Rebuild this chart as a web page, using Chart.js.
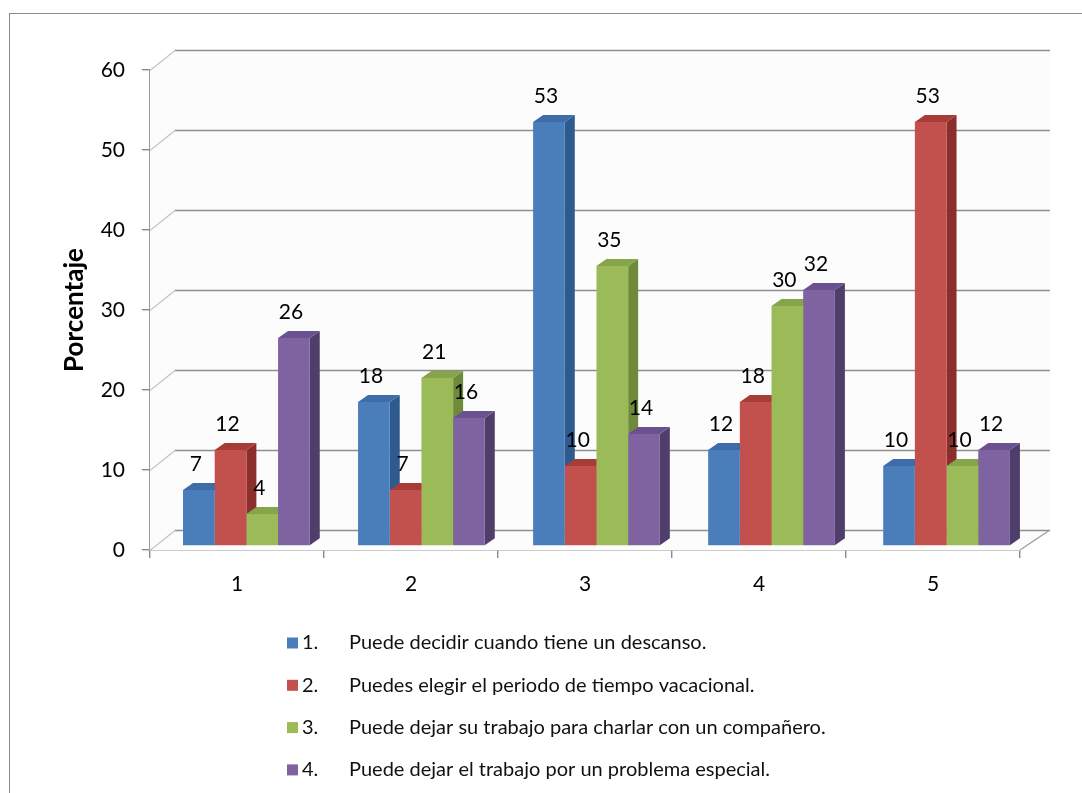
<!DOCTYPE html>
<html>
<head>
<meta charset="utf-8">
<script src="https://cdn.jsdelivr.net/npm/chart.js@4.4.1/dist/chart.umd.min.js"></script>
<style>
  html, body { margin: 0; padding: 0; background: #fff; overflow: hidden; }
  canvas { display: block; }
</style>
</head>
<body>
<canvas id="chart" width="1082" height="793"></canvas>
<script>
// Categories (questions) and the four answer series, in percent
const categories = ['1', '2', '3', '4', '5'];
const seriesNumbers = ['1.', '2.', '3.', '4.'];
const seriesNames = [
  'Puede decidir cuando tiene un descanso.',
  'Puedes elegir el periodo de tiempo vacacional.',
  'Puede dejar su trabajo para charlar con un compañero.',
  'Puede dejar el trabajo por un problema especial.'
];
const descanso   = [7, 18, 53, 12, 10];
const vacacional = [12, 7, 10, 18, 53];
const charlar    = [4, 21, 35, 30, 10];
const problema   = [26, 16, 14, 32, 12];
const yTicks = [0, 10, 20, 30, 40, 50, 60];

// Face colours for the 3-D columns
const frontColors = ['#4a7ebb', '#c2504c', '#9bbb59', '#7f63a1'];
const sideColors  = ['#2f5a8e', '#8c2f2c', '#6f8a3a', '#4f3d6c'];
const topColors   = ['#3d6ca8', '#a53c38', '#86a449', '#6a5190'];

const FONT = 'Lato, "Open Sans", sans-serif';

// Projection of the column plane (columns stand a little behind the front axis)
const COL_SX = 1.006, COL_DX = 7.96, COL_DY = -4;
const DEPTH_X = 10, DEPTH_Y = -7;        // column depth
const WALL_DX = 25, WALL_DY = -20;       // back wall offset
const WALL_SX = 1.0057;

const colX = x => COL_SX * x + COL_DX;

const frame = {
  id: 'frame',
  beforeDraw(chart) {
    const ctx = chart.ctx;
    ctx.save();
    ctx.fillStyle = '#ffffff';
    ctx.fillRect(0, 0, chart.width, chart.height);
    ctx.strokeStyle = '#8a8a8a';
    ctx.lineWidth = 1;
    ctx.strokeRect(9.5, 13.5, 2000, 2000);
    ctx.restore();
  }
};

const walls = {
  id: 'walls',
  beforeDatasetsDraw(chart) {
    const ctx = chart.ctx;
    const ys = chart.scales.y;
    const L = chart.chartArea.left, R = chart.chartArea.right, B = chart.chartArea.bottom;
    const backL = L + WALL_DX;
    const backR = L + WALL_DX + (R - L) * WALL_SX;
    ctx.save();
    // back wall tint
    ctx.fillStyle = '#fcfcfc';
    ctx.beginPath();
    ctx.moveTo(L, ys.getPixelForValue(60));
    ctx.lineTo(backL, ys.getPixelForValue(60) + WALL_DY);
    ctx.lineTo(backR, ys.getPixelForValue(60) + WALL_DY);
    ctx.lineTo(backR, B + WALL_DY);
    ctx.lineTo(R, B);
    ctx.lineTo(L, B);
    ctx.closePath();
    ctx.fill();
    yTicks.forEach(v => {
      const y = Math.round(ys.getPixelForValue(v)) + 0.5;
      ctx.strokeStyle = '#c4c4c4';
      ctx.lineWidth = 1.2;
      ctx.beginPath();
      ctx.moveTo(L, y);
      ctx.lineTo(backL, y + WALL_DY);
      ctx.stroke();
      ctx.strokeStyle = '#8e8e8e';
      ctx.lineWidth = 1.6;
      ctx.beginPath();
      ctx.moveTo(backL, y + WALL_DY);
      ctx.lineTo(backR, y + WALL_DY);
      ctx.stroke();
    });
    // right edge of the floor
    ctx.strokeStyle = '#a0a0a0';
    ctx.lineWidth = 1.4;
    ctx.beginPath();
    ctx.moveTo(R, B);
    ctx.lineTo(backR, B + WALL_DY);
    ctx.stroke();

    // side and top faces of the columns, left to right
    const n = chart.data.datasets.length;
    for (let i = 0; i < chart.data.labels.length; i++) {
      for (let d = 0; d < n; d++) {
        const el = chart.getDatasetMeta(d).data[i];
        const p = el.getProps(['x', 'y', 'base', 'width'], true);
        const l = colX(p.x - p.width / 2), r = colX(p.x + p.width / 2);
        const top = p.y + COL_DY, base = p.base + COL_DY;
        ctx.fillStyle = sideColors[d];
        ctx.beginPath();
        ctx.moveTo(r, top);
        ctx.lineTo(r + DEPTH_X, top + DEPTH_Y);
        ctx.lineTo(r + DEPTH_X, base + DEPTH_Y);
        ctx.lineTo(r, base);
        ctx.closePath();
        ctx.fill();
        ctx.fillStyle = topColors[d];
        ctx.beginPath();
        ctx.moveTo(l, top);
        ctx.lineTo(l + DEPTH_X, top + DEPTH_Y);
        ctx.lineTo(r + DEPTH_X, top + DEPTH_Y);
        ctx.lineTo(r, top);
        ctx.closePath();
        ctx.fill();
      }
    }
    ctx.restore();
    // front faces are drawn by Chart.js in the column plane
    ctx.save();
    ctx.transform(COL_SX, 0, 0, 1, COL_DX, COL_DY);
  },
  afterDatasetsDraw(chart) {
    const ctx = chart.ctx;
    ctx.restore();
    // value labels
    ctx.save();
    ctx.font = '21px ' + FONT;
    ctx.fillStyle = '#000';
    ctx.textAlign = 'center';
    ctx.textBaseline = 'middle';
    chart.data.datasets.forEach((ds, d) => {
      chart.getDatasetMeta(d).data.forEach((el, i) => {
        const p = el.getProps(['x', 'y'], true);
        ctx.fillText(String(ds.data[i]), colX(p.x) - 3, p.y + COL_DY - 26);
      });
    });
    ctx.restore();
  }
};

const legendBlock = {
  id: 'legendBlock',
  afterDraw(chart) {
    const ctx = chart.ctx;
    ctx.save();
    ctx.font = '20px ' + FONT;
    ctx.textBaseline = 'middle';
    ctx.textAlign = 'left';
    chart.data.datasets.forEach((ds, d) => {
      const y = 643 + d * 42.3;
      ctx.fillStyle = frontColors[d];
      ctx.fillRect(287, y - 5.5, 11, 11);
      ctx.fillStyle = '#111';
      ctx.fillText(seriesNumbers[d], 302, y);
      ctx.fillText(seriesNames[d], 349, y);
    });
    ctx.restore();
  }
};

const seriesValues = [descanso, vacacional, charlar, problema];

new Chart(document.getElementById('chart'), {
  type: 'bar',
  data: {
    labels: categories,
    datasets: seriesValues.map((vals, d) => ({
      label: seriesNumbers[d] + ' ' + seriesNames[d],
      data: vals,
      backgroundColor: frontColors[d],
      borderWidth: 0,
      categoryPercentage: 0.724,
      barPercentage: 1.0
    }))
  },
  options: {
    responsive: false,
    devicePixelRatio: 1,
    animation: false,
    layout: { padding: { left: 0, top: 70, right: 62, bottom: 0 } },
    plugins: {
      legend: { display: false },
      tooltip: { enabled: false }
    },
    scales: {
      x: {
        type: 'category',
        offset: true,
        afterFit(scale) { scale.height = 243; },
        grid: {
          offset: true,
          drawOnChartArea: false,
          drawTicks: true,
          tickLength: 8,
          color: '#8a8a8a',
          lineWidth: 1.4
        },
        border: { display: true, color: '#9a9a9a', width: 1.6 },
        ticks: {
          font: { family: FONT, size: 21 },
          color: '#000',
          padding: 14
        }
      },
      y: {
        min: 0,
        max: 60,
        afterFit(scale) { scale.width = 150; },
        afterBuildTicks(scale) { scale.ticks = yTicks.map(v => ({ value: v })); },
        grid: {
          drawOnChartArea: false,
          drawTicks: true,
          tickLength: 8,
          color: '#8a8a8a',
          lineWidth: 1.4
        },
        border: { display: true, color: '#9a9a9a', width: 1.8 },
        ticks: {
          font: { family: FONT, size: 21 },
          color: '#000',
          padding: 17
        },
        title: {
          display: true,
          text: 'Porcentaje',
          font: { family: FONT, size: 26, weight: 'bold' },
          color: '#000',
          padding: { top: 59, bottom: 0 }
        }
      }
    }
  },
  plugins: [frame, walls, legendBlock]
});
</script>
</body>
</html>
